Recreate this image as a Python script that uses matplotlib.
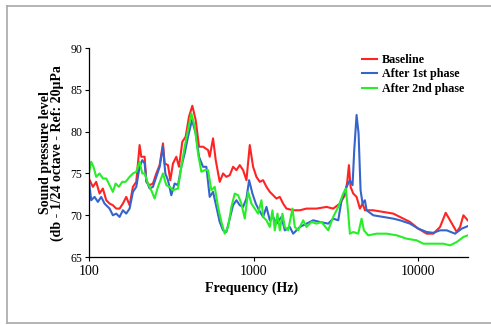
import matplotlib.pyplot as plt
from matplotlib.lines import Line2D

# frequencies (Hz) and levels (dB)
base_f = [100, 105.8, 110.8, 116.1, 121.6, 127.5, 133.6, 139.9, 146.6, 153.6, 160.9, 168.6,
          176.7, 185.1, 194.0, 203.2, 208.0, 213.0, 218.0, 223.2, 233.8, 244.9, 256.6, 268.9,
          281.7, 288.4, 302.1, 312.2, 324.1, 339.5, 352.4, 369.3, 386.9, 405.3, 424.7, 445.0,
          466.3, 493.2, 528.9, 541.4, 567.3, 588.9, 622.7, 652.5, 683.6, 716.3, 750.5, 786.4,
          824.0, 863.4, 904.6, 947.9, 993.0, 1040, 1090, 1142, 1197, 1254, 1314, 1376, 1442,
          1511, 1583, 1738, 1908, 2095, 2409, 2772, 3043, 3341, 3583, 3702, 3789, 3878, 4026,
          4218, 4419, 4587, 4739, 5326, 6127, 7047, 7738, 8900, 10000, 11237, 12337, 13543,
          14661, 15577, 17103, 17919, 18774, 19948]
base_db = [74.4, 73.4, 74.0, 72.6, 73.2, 71.8, 71.4, 71.2, 70.8, 70.8, 71.4, 72.2,
           71.2, 73.4, 74.0, 78.4, 77.0, 77.0, 77.0, 74.0, 73.6, 73.8, 75.0, 76.0,
           78.6, 76.2, 76.0, 74.2, 76.2, 77.0, 75.8, 78.8, 79.4, 81.8, 83.1, 81.4,
           78.2, 78.2, 77.8, 77.0, 79.2, 76.6, 74.0, 75.0, 74.6, 74.8, 75.8, 75.4,
           76.0, 75.4, 74.2, 78.4, 75.8, 74.6, 74.0, 74.2, 73.4, 72.8, 72.4, 72.0, 72.2,
           71.4, 70.8, 70.6, 70.6, 70.8, 70.8, 71.0, 70.8, 71.4, 72.4, 74.0, 76.0, 73.4, 72.6,
           72.2, 70.8, 71.4, 70.6, 70.6, 70.4, 70.2, 69.8, 69.2, 68.4, 67.8, 67.8, 68.6,
           70.3, 69.4, 68.0, 68.6, 70.0, 69.4]

ph1_f = [100, 103.3, 108.3, 113.4, 118.8, 124.5, 133.6, 139.9, 146.6, 153.6, 160.9, 168.6,
         176.7, 185.1, 194.0, 203.2, 211.0, 218.0, 223.2, 233.8, 244.9, 256.6, 268.9, 281.7,
         291.1, 302.1, 316.6, 331.7, 347.5, 364.1, 381.5, 399.7, 422.7, 445.0, 466.3, 493.2,
         516.7, 541.4, 567.3, 594.4, 622.7, 652.5, 683.6, 716.3, 750.5, 786.4, 824.0, 863.4,
         904.6, 939.0, 983.8, 1030.8, 1080, 1142, 1197, 1254, 1314, 1376, 1476, 1547, 1659,
         1738, 1908, 2095, 2300, 2525, 2837, 3043, 3264, 3420, 3667, 3842, 3988, 4082, 4218,
         4337, 4460, 4587, 4739, 4851, 5326, 6127, 7047, 7738, 8900, 10000, 11237, 12337,
         13543, 14868, 16707, 18342, 19948]
ph1_db = [74.2, 71.8, 72.2, 71.6, 72.2, 71.4, 70.8, 70.0, 70.2, 69.8, 70.6, 70.2,
          70.8, 72.8, 73.4, 75.8, 76.6, 76.2, 74.2, 73.2, 73.4, 74.6, 75.8, 78.2,
          75.0, 74.2, 72.4, 73.8, 73.6, 75.8, 77.4, 79.4, 81.4, 79.8, 77.0, 75.8,
          75.8, 72.2, 72.8, 71.0, 69.2, 68.2, 68.0, 69.6, 71.2, 71.8, 71.2, 71.0,
          72.0, 74.2, 72.6, 71.4, 70.6, 69.8, 71.0, 69.4, 69.8, 69.0, 69.8, 68.2, 68.6,
          67.8, 68.6, 69.0, 69.4, 69.2, 69.0, 69.6, 69.4, 71.8, 73.4, 74.2, 73.6, 77.8, 82.0,
          79.8, 73.0, 71.4, 71.8, 70.6, 70.0, 69.8, 69.6, 69.4, 69.0, 68.4, 68.0, 67.9,
          68.2, 68.2, 67.8, 68.4, 68.7]

ph2_f = [100, 103.3, 106.7, 110.8, 116.1, 121.6, 127.5, 133.6, 139.9, 145.3, 152.2, 159.4,
         167.1, 176.7, 185.1, 194.0, 203.2, 211.0, 218.0, 228.4, 239.3, 250.7, 262.7, 281.7,
         295.2, 309.3, 324.1, 347.5, 364.1, 381.5, 399.7, 418.8, 438.8, 459.8, 481.8, 504.8,
         528.9, 554.2, 580.6, 608.4, 637.4, 667.9, 699.8, 733.2, 768.3, 805.0, 843.4, 883.7,
         926.0, 970.3, 1016.5, 1065, 1116, 1142, 1197, 1254, 1301, 1345, 1396, 1442, 1497,
         1547, 1620, 1722, 1779, 1864, 2000, 2095, 2247, 2409, 2584, 2837, 3043, 3264, 3500,
         3633, 3754, 3842, 4026, 4317, 4523, 4673, 4966, 5581, 6421, 7385, 8495, 9770,
         10725, 12337, 14190, 15577, 17103, 18774, 19948]
ph2_db = [75.0, 76.4, 75.8, 74.6, 75.0, 74.4, 74.4, 73.6, 72.8, 73.8, 73.4, 74.0,
          74.0, 74.6, 75.0, 75.2, 76.4, 75.0, 75.0, 73.8, 73.0, 72.0, 73.4, 75.0,
          73.6, 73.4, 73.0, 73.2, 75.8, 78.2, 80.2, 82.2, 80.6, 77.4, 75.2, 75.4,
          75.4, 73.0, 73.4, 71.0, 69.2, 67.8, 68.6, 71.0, 72.6, 72.4, 71.4, 69.6,
          72.8, 71.4, 70.8, 70.2, 71.8, 69.8, 69.4, 68.6, 70.6, 68.2, 70.2, 68.2, 70.2,
          68.6, 68.2, 70.8, 68.6, 68.2, 69.4, 68.6, 69.2, 69.0, 69.2, 68.2, 69.8, 71.0, 72.6,
          73.2, 70.2, 67.8, 68.0, 67.8, 69.6, 68.2, 67.6, 67.8, 67.8, 67.6, 67.2, 67.0,
          66.6, 66.6, 66.6, 66.4, 66.8, 67.4, 67.6]

series = [("Baseline", base_f, base_db, "#ff2424"),
          ("After 1st phase", ph1_f, ph1_db, "#3565cc"),
          ("After 2nd phase", ph2_f, ph2_db, "#28ee28")]

plt.rcParams['font.family'] = ['Liberation Serif', 'DejaVu Serif']

fig = plt.figure(figsize=(4.91, 3.25), dpi=100)
ax = fig.add_axes([0.181, 0.209, 0.772, 0.643])

for name, f, db, c in series:
    ax.plot(f, db, color=c, lw=1.5, label=name, solid_joinstyle='round')

ax.set_xscale('log')
ax.set_xlim(100, 20000)
ax.set_ylim(65, 90)
ax.set_yticks([65, 70, 75, 80, 85, 90])
ax.set_xticks([100, 1000, 10000])
ax.set_xticklabels(['100', '1000', '10000'])
ax.minorticks_off()
ax.tick_params(length=3, width=0.8, pad=1.5)
ax.tick_params(axis='y', labelsize=8.5)
ax.tick_params(axis='x', labelsize=10, pad=3)

for s in ['top', 'right']:
    ax.spines[s].set_visible(False)
for s in ['left', 'bottom']:
    ax.spines[s].set_linewidth(0.9)

ax.set_xlabel('Frequency (Hz)', fontsize=10, fontweight='bold')
ax.xaxis.set_label_coords(0.43, -0.115)
ax.set_ylabel('Sound pressure level\n(db - 1/24 octave - Ref: 20\u00b5Pa',
              fontsize=10, fontweight='bold', linespacing=0.88)
ax.yaxis.set_label_coords(-0.066, 0.5)

ax.legend(loc='upper left', bbox_to_anchor=(0.707, 0.995), frameon=False,
          prop={'weight': 'bold', 'size': 8.7}, handlelength=1.3,
          handletextpad=0.4, labelspacing=0.2, borderaxespad=0)

# outer frame
fc = '#a8a8a8'
fig.add_artist(Line2D([7 / 491, 7 / 491], [2 / 325, 319 / 325], color=fc, lw=1.2))
fig.add_artist(Line2D([7 / 491, 1.0], [319 / 325, 319 / 325], color=fc, lw=1.2))
fig.add_artist(Line2D([7 / 491, 1.0], [2 / 325, 2 / 325], color=fc, lw=1.2))

fig.savefig('out.png', dpi=100)
